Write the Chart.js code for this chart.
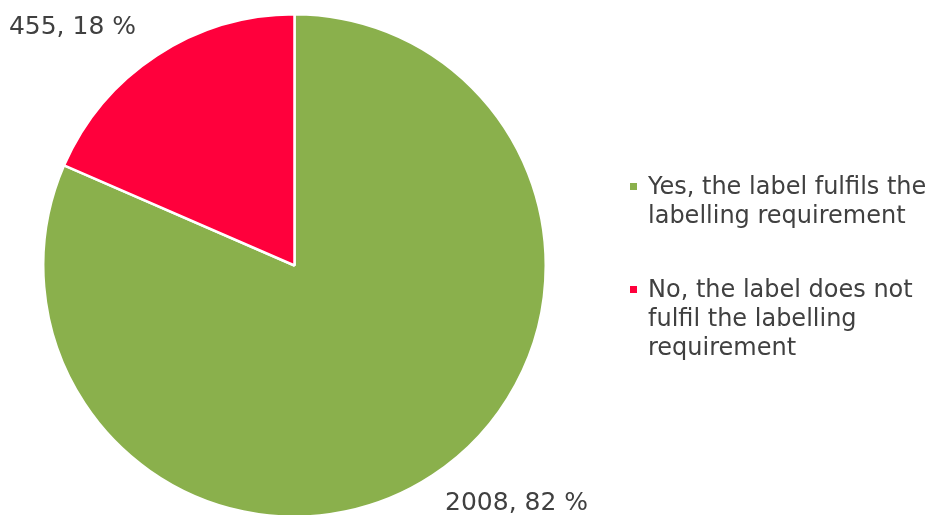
<!DOCTYPE html>
<html>
<head>
<meta charset="utf-8">
<script src="https://cdn.jsdelivr.net/npm/chart.js@4"></script>
<style>
  html, body { margin:0; padding:0; background:#fff; overflow:hidden; }
  #wrap { position:relative; width:934px; height:515px; overflow:hidden; }
</style>
</head>
<body>
<div id="wrap"><canvas id="pieCanvas" width="934" height="520"></canvas></div>
<script>
(function(){
'use strict';

const categories = [
  ['Yes, the label fulfils the', 'labelling requirement'],
  ['No, the label does not', 'fulfil the labelling', 'requirement']
];
const counts   = [2008, 455];
const percents = [82, 18];
const colors   = ['#8AB04C', '#FF003C'];

const FONT = '"DejaVu Sans", Verdana, sans-serif';
const TEXT = '#404040';

// value labels outside each slice: "count, pct %"
const sliceLabels = {
  id:'sliceLabels',
  afterDatasetsDraw(chart){
    const ctx = chart.ctx;
    const meta = chart.getDatasetMeta(0);
    ctx.save();
    ctx.font = '25px ' + FONT;
    ctx.fillStyle = TEXT;
    ctx.textAlign = 'center';
    ctx.textBaseline = 'middle';
    meta.data.forEach((arc, i) => {
      const p = arc.getProps(['x','y','startAngle','endAngle','outerRadius'], true);
      const a = (p.startAngle + p.endAngle) / 2 - 9.8 * Math.PI / 180;
      const d = p.outerRadius + 74;
      ctx.fillText(counts[i] + ', ' + percents[i] + ' %', p.x + Math.cos(a) * d, p.y + Math.sin(a) * d);
    });
    ctx.restore();
  }
};

// legend on the right, wrapped lines
const sideLegend = {
  id:'sideLegend',
  afterDraw(chart){
    const ctx = chart.ctx;
    ctx.save();
    ctx.font = '24px ' + FONT;
    ctx.textBaseline = 'alphabetic';
    ctx.textAlign = 'left';
    const tops = [194, 297];
    categories.forEach((lines, i) => {
      ctx.fillStyle = colors[i];
      ctx.fillRect(630, tops[i] - 11, 7, 7);
      ctx.fillStyle = TEXT;
      lines.forEach((ln, j) => ctx.fillText(ln, 648, tops[i] + j * 29));
    });
    ctx.restore();
  }
};

const ctx = document.getElementById('pieCanvas').getContext('2d');
new Chart(ctx, {
  type:'pie',
  data:{
    labels: categories.map(l => l.join(' ')),
    datasets:[{
      data: counts,
      backgroundColor: colors,
      borderColor:'#ffffff',
      borderWidth:2.5,
      hoverOffset:0
    }]
  },
  options:{
    responsive:false,
    animation:false,
    layout:{ padding:{ top:13, bottom:2, left:42, right:387 } },
    plugins:{ legend:{ display:false }, tooltip:{ enabled:false } }
  },
  plugins:[sliceLabels, sideLegend]
});

})();
</script>
</body>
</html>
